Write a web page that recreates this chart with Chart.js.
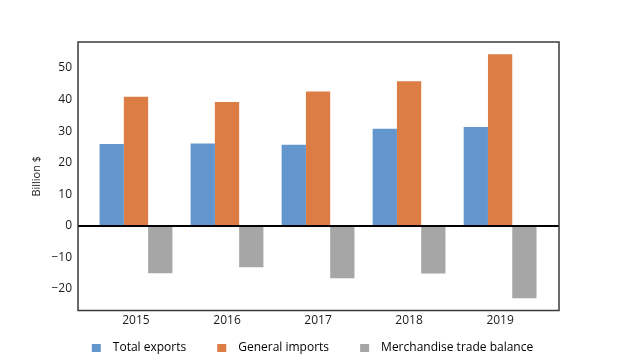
<!DOCTYPE html>
<html><head><meta charset="utf-8">
<script src="https://cdn.jsdelivr.net/npm/chart.js@4"></script>
<style>html,body{margin:0;padding:0;background:#fff}#wrap{width:621px;height:356px}</style>
</head><body><div id="wrap"><canvas id="c" width="621" height="356"></canvas></div>
<script>
const years = ['2015', '2016', '2017', '2018', '2019'];
const totalExports = [25.9, 26.1, 25.7, 30.7, 31.3];
const generalImports = [40.9, 39.2, 42.5, 45.8, 54.3];
const tradeBalance = [-15.0, -13.1, -16.6, -15.1, -22.9];
const seriesNames = ['Total exports', 'General imports', 'Merchandise trade balance'];
const yTicks = [-20, -10, 0, 10, 20, 30, 40, 50];

const colors = ['#6496CE', '#DB7D44', '#A6A6A6'];
const FONT = 'Open Sans';
Chart.defaults.font.family = FONT;
Chart.defaults.color = '#1a1a1a';

function legendImg(color) {
  const cv = document.createElement('canvas');
  cv.width = 46; cv.height = 8;
  const g = cv.getContext('2d');
  g.fillStyle = color;
  g.fillRect(31, 0, 9, 8);
  return cv;
}
const legendImgs = colors.map(legendImg);

const seriesData = [totalExports, generalImports, tradeBalance];

const framePlugin = {
  id: 'frame',
  afterDatasetsDraw(chart) {
    const {ctx, chartArea: a, scales: {y}} = chart;
    ctx.save();
    const z = Math.round(y.getPixelForValue(0));
    ctx.strokeStyle = '#000';
    ctx.lineWidth = 2;
    ctx.beginPath(); ctx.moveTo(a.left, z); ctx.lineTo(a.right, z); ctx.stroke();
    ctx.strokeStyle = '#3a3a3a';
    ctx.lineWidth = 1.5;
    ctx.strokeRect(a.left, a.top, a.right - a.left, a.bottom - a.top);
    ctx.restore();
  }
};

new Chart(document.getElementById('c'), {
  type: 'bar',
  data: {
    datasets: seriesNames.map((name, i) => ({
      label: name,
      data: years.map((_, k) => ({x: k, y: seriesData[i][k]})),
      backgroundColor: colors[i],
      borderWidth: 0,
      categoryPercentage: 0.8,
      barPercentage: 1.0
    }))
  },
  options: {
    responsive: false,
    animation: false,
    devicePixelRatio: 1,
    layout: {padding: {left: 35, right: 62, top: 42, bottom: -7.5}},
    plugins: {
      tooltip: {enabled: false},
      legend: {
        position: 'bottom',
        align: 'center',
        labels: {
          usePointStyle: true,
          pointStyleWidth: 46,
          padding: 0,
          font: {family: FONT, size: 12},
          color: '#1a1a1a',
          generateLabels: () => seriesNames.map((n, i) => ({
            text: n, pointStyle: legendImgs[i], fillStyle: colors[i],
            strokeStyle: colors[i], lineWidth: 0, hidden: false, datasetIndex: i
          }))
        }
      }
    },
    scales: {
      x: {
        type: 'linear',
        min: -0.637, max: 4.647,
        offset: false,
        afterBuildTicks: s => { s.ticks = years.map((_, i) => ({value: i})); },
        afterFit: s => { s.height = 31; },
        ticks: {
          callback: v => years[v],
          autoSkip: false, maxRotation: 0, padding: 3,
          font: {family: FONT, size: 12}, color: '#1a1a1a'
        },
        grid: {display: false, drawTicks: false},
        border: {display: false}
      },
      y: {
        min: -26.8, max: 58.2,
        afterBuildTicks: s => { s.ticks = yTicks.map(v => ({value: v})); },
        afterFit: s => { s.width = 43; },
        ticks: {
          callback: v => (v < 0 ? '\u2212' + Math.abs(v) : String(v)),
          padding: 6,
          font: {family: FONT, size: 12}, color: '#1a1a1a'
        },
        grid: {display: false, drawTicks: false},
        border: {display: false},
        title: {
          display: true, text: 'Billion $',
          font: {family: FONT, size: 11}, color: '#1a1a1a',
          padding: {top: -5, bottom: 0}
        }
      }
    }
  },
  plugins: [framePlugin]
});
</script>
</body></html>
